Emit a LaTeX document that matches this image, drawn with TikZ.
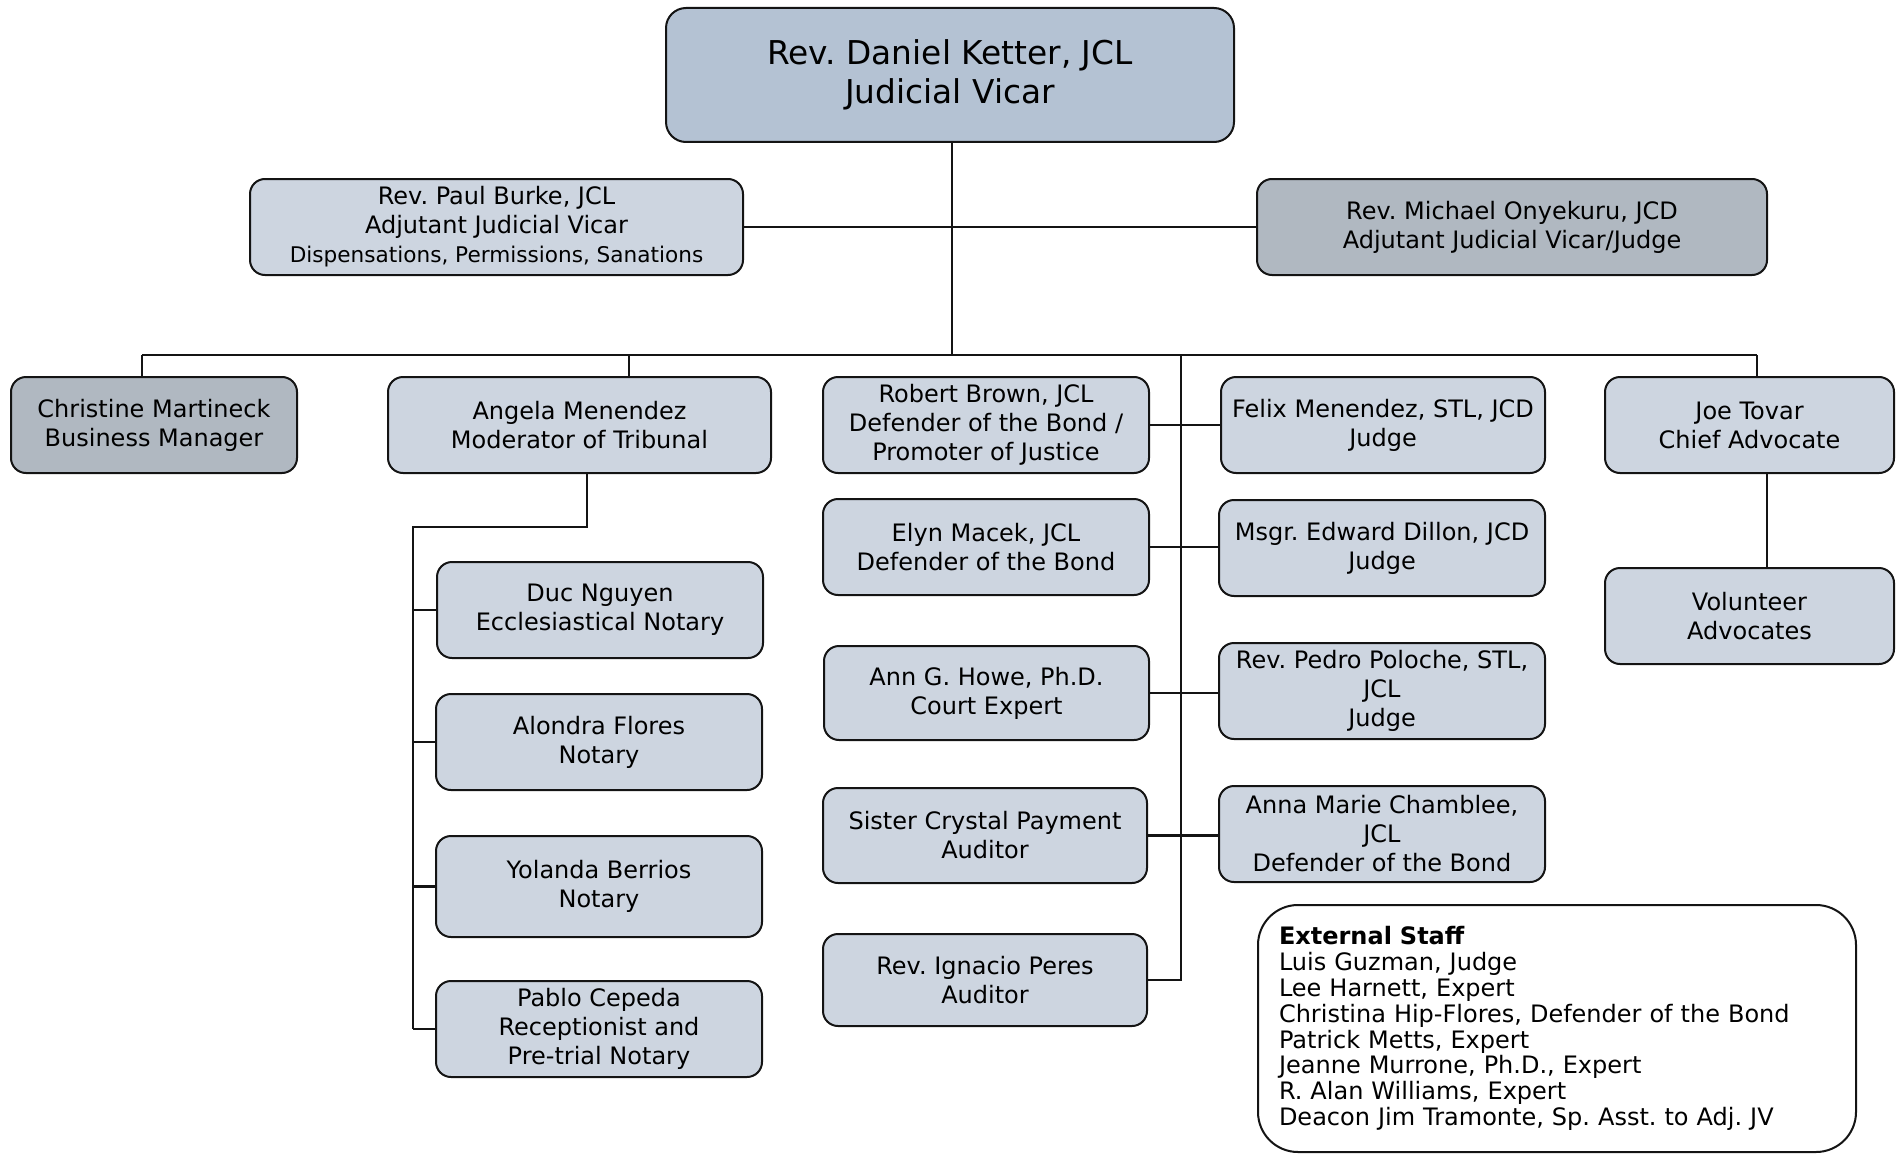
\documentclass[tikz,border=0pt]{standalone}
\usepackage{fontspec}
\setmainfont{DejaVu Sans}
\frenchspacing
\definecolor{topfill}{HTML}{B4C2D3}
\definecolor{lightfill}{HTML}{CDD5E0}
\definecolor{grayfill}{HTML}{B0B8C1}
\definecolor{linec}{HTML}{141414}
\begin{document}
\begin{tikzpicture}[x=0.5pt,y=-0.5pt,
  box/.style={draw=linec, line width=1pt, rounded corners=7.5pt, inner sep=0pt, align=center, font=\fontsize{12}{14.5}\selectfont, text=black},
  lbox/.style={box, fill=lightfill},
  gbox/.style={box, fill=grayfill},
  rect/.style n args={4}{at={({(#1+#3)/2},{(#2+#4)/2})}, minimum width={(#3-#1)*0.5pt}, minimum height={(#4-#2)*0.5pt}},
  conn/.style={draw=linec, line width=1.1pt}]
\useasboundingbox (0,0) rectangle (1900,1156);

% top level
\node[box, fill=topfill, rounded corners=10pt, font=\fontsize{16.4}{19.5}\selectfont, rect={666}{8}{1234}{142}] (top) {Rev. Daniel Ketter, JCL\\Judicial Vicar};
\node[lbox, rect={250}{179}{743}{275}] (paul) {Rev. Paul Burke, JCL\\Adjutant Judicial Vicar\\{\fontsize{10.8}{14.5}\selectfont Dispensations, Permissions, Sanations}};
\node[gbox, rect={1257}{179}{1767}{275}] (onye) {Rev. Michael Onyekuru, JCD\\Adjutant Judicial Vicar/Judge};

% row 1
\node[gbox, rect={11}{377}{297}{473}] (christine) {Christine Martineck\\Business Manager};
\node[lbox, rect={388}{377}{771}{473}] (angela) {Angela Menendez\\Moderator of Tribunal};
\node[lbox, rect={823}{377}{1149}{473}] (brown) {Robert Brown, JCL\\Defender of the Bond /\\Promoter of Justice};
\node[lbox, rect={1221}{377}{1545}{473}] (felix) {Felix Menendez, STL, JCD\\Judge};
\node[lbox, rect={1605}{377}{1894}{473}] (joe) {Joe Tovar\\Chief Advocate};
\node[lbox, rect={1605}{568}{1894}{664}] (vol) {Volunteer\\Advocates};

% Angela subtree
\node[lbox, rect={437}{562}{763}{658}] (duc) {Duc Nguyen\\Ecclesiastical Notary};
\node[lbox, rect={436}{694}{762}{790}] (alondra) {Alondra Flores\\Notary};
\node[lbox, rect={436}{836}{762}{937}] (yolanda) {Yolanda Berrios\\Notary};
\node[lbox, rect={436}{981}{762}{1077}] (pablo) {Pablo Cepeda\\Receptionist and\\Pre-trial Notary};

% centre column
\node[lbox, rect={823}{499}{1149}{595}] (elyn) {Elyn Macek, JCL\\Defender of the Bond};
\node[lbox, rect={824}{646}{1149}{740}] (ann) {Ann G. Howe, Ph.D.\\Court Expert};
\node[lbox, rect={823}{788}{1147}{883}] (crystal) {Sister Crystal Payment\\Auditor};
\node[lbox, rect={823}{934}{1147}{1026}] (ignacio) {Rev. Ignacio Peres\\Auditor};

% right column
\node[lbox, rect={1219}{500}{1545}{596}] (dillon) {Msgr. Edward Dillon, JCD\\Judge};
\node[lbox, rect={1219}{643}{1545}{739}] (pedro) {Rev. Pedro Poloche, STL,\\JCL\\Judge};
\node[lbox, rect={1219}{786}{1545}{882}] (anna) {Anna Marie Chamblee,\\JCL\\Defender of the Bond};

% external staff
\node[draw=linec, line width=1pt, fill=white, rounded corners=20pt, anchor=north west, inner xsep=10.5pt, inner ysep=0pt,
  text width=278pt, minimum height=123.5pt, align=left, font=\fontsize{12}{12.9}\selectfont] (ext) at (1257,904)
  {\textbf{External Staff}\\Luis Guzman, Judge\\Lee Harnett, Expert\\Christina Hip-Flores, Defender of the Bond\\Patrick Metts, Expert\\Jeanne Murrone, Ph.D., Expert\\R. Alan Williams, Expert\\Deacon Jim Tramonte, Sp. Asst. to Adj. JV};

% connectors
\coordinate (bus) at (952,355);
\coordinate (bL) at (142,355);
\coordinate (bR) at (1757,355);
\coordinate (bA) at (629,355);
\coordinate (bC) at (1181,355);
\coordinate (aD) at (587,527);
\coordinate (aL) at (413,527);
\coordinate (jv) at (1767,600);

\draw[conn] (top.south -| bus) -- (bus);
\draw[conn] (paul.east) -- (paul.east -| onye.west);
\draw[conn] (bL) -- (bR);
\draw[conn] (bL) -- (bL |- christine.north);
\draw[conn] (bA) -- (bA |- angela.north);
\draw[conn] (bR) -- (bR |- joe.north);
\draw[conn] (bC) -- (bC |- ignacio.east) -- (ignacio.east);

\draw[conn] (aD |- angela.south) -- (aD) -- (aL) -- (aL |- pablo.west);
\draw[conn] (aL |- duc.west) -- (duc.west);
\draw[conn] (aL |- alondra.west) -- (alondra.west);
\draw[conn] (aL |- yolanda.west) -- (yolanda.west);
\draw[conn] (aL |- pablo.west) -- (pablo.west);

\draw[conn] (brown.east) -- (brown.east -| felix.west);
\draw[conn] (elyn.east) -- (elyn.east -| dillon.west);
\draw[conn] (ann.east) -- (ann.east -| pedro.west);
\draw[conn] (crystal.east) -- (crystal.east -| anna.west);

\draw[conn] (jv |- joe.south) -- (jv |- vol.north);
\end{tikzpicture}
\end{document}
